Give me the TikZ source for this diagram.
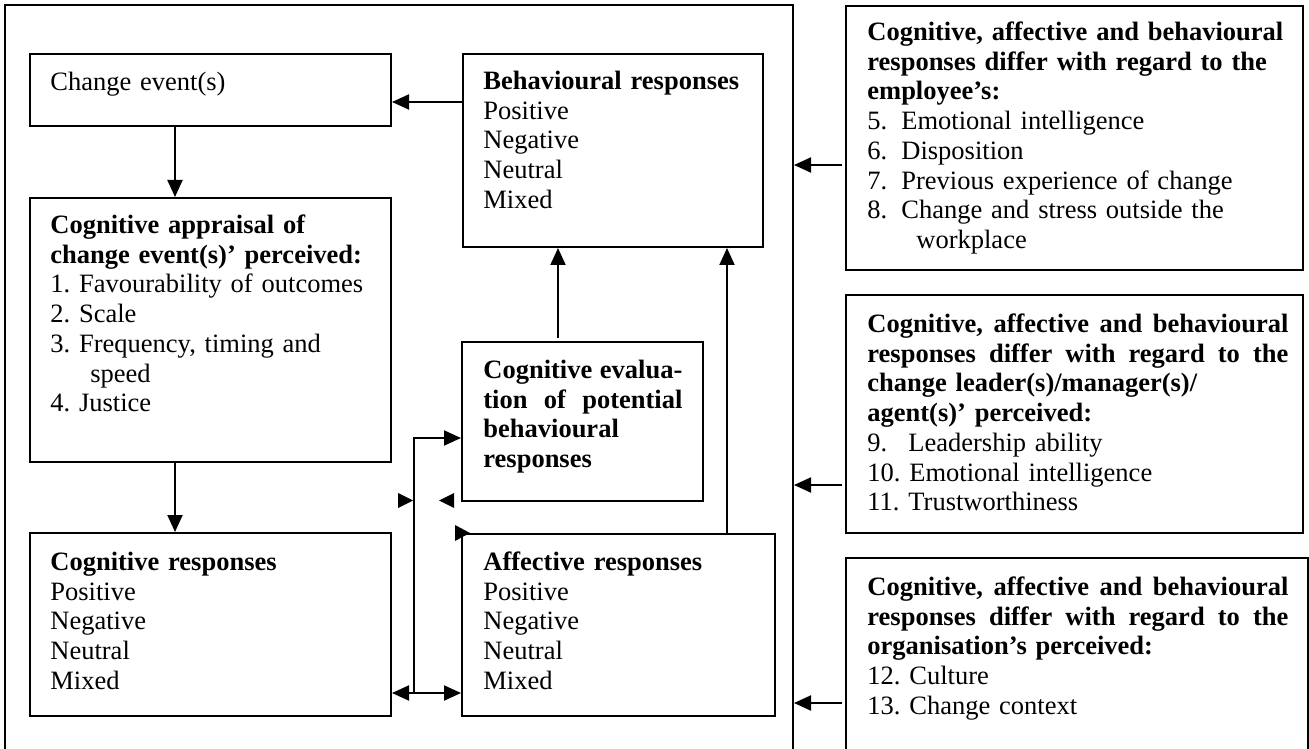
\documentclass[tikz,border=0pt]{standalone}
\usepackage{fontspec}
\setmainfont{Liberation Serif}
\usetikzlibrary{arrows.meta,fit}
\newcommand{\numbox}[2]{\makebox[#1][l]{#2}}
\newcommand{\justline}[2]{\leavevmode\hbox to #1{#2}}
\tikzset{
  box/.style={draw, line width=1pt, inner sep=0pt},
  txt/.style={anchor=north west, inner sep=0pt, align=left, text width=#1,
              font=\fontsize{13.25}{14.875}\selectfont\frenchspacing},
  arr/.style={line width=1pt, -{Triangle[length=8.5pt,width=7.5pt]}},
  darr/.style={line width=1pt, {Triangle[length=8.5pt,width=7.5pt]}-{Triangle[length=8.5pt,width=7.5pt]}},
  ln/.style={line width=1pt},
}
\begin{document}
\begin{tikzpicture}[x=0.5pt,y=-0.5pt]
\clip (0,0) rectangle (1309,748);
\fill[white] (0,0) rectangle (1309,748);

% outer frame
\node[box, fit={(5,5) (793,790)}] (outer) {};

% left column boxes
\node[box, fit={(30,54) (391,126)}] (ce) {};
\node[box, fit={(30,198) (391,462)}] (ca) {};
\node[box, fit={(30,533) (391,716)}] (cr) {};
% middle column boxes
\node[box, fit={(463,54) (763,247)}] (br) {};
\node[box, fit={(462,342) (703,501)}] (ev) {};
\node[box, fit={(462,534) (775,716)}] (ar) {};
% right column boxes
\node[box, fit={(846,6) (1303,270)}] (r1) {};
\node[box, fit={(846,295) (1303,533)}] (r2) {};
\node[box, fit={(846,558) (1308,790)}] (r3) {};

% texts
\node[txt=180pt] (ce-t) at (50,69) {\strut Change event(s)};
\node[txt=150pt] (br-t) at (483,68.2) {\strut\textbf{Behavioural responses}\\Positive\\Negative\\Neutral\\Mixed};
\node[txt=180pt] (ca-t) at (50,212.2) {\strut\textbf{Cognitive appraisal of}\\\textbf{change event(s)’ perceived:}\\1. Favourability of outcomes\\2. Scale\\3. Frequency, timing and\\\hspace*{20pt}speed\\4. Justice};
\node[txt=180pt] (cr-t) at (50,549.2) {\strut\textbf{Cognitive responses}\\Positive\\Negative\\Neutral\\Mixed};
\node[txt=150pt] (ar-t) at (483,549.2) {\strut\textbf{Affective responses}\\Positive\\Negative\\Neutral\\Mixed};
\node[txt=99.5pt] (ev-t) at (483,357.2) {\bfseries\strut\justline{99.5pt}{Cognitive\hfill evalua-}\\\justline{99.5pt}{tion\hfill of\hfill potential}\\behavioural\\responses};

\node[txt=210.5pt] (r1-t) at (867,19.2) {\strut\textbf{Cognitive, affective and behavioural}\\\textbf{responses differ with regard to the}\\\textbf{employee’s:}\\\numbox{17pt}{5.}Emotional intelligence\\\numbox{17pt}{6.}Disposition\\\numbox{17pt}{7.}Previous experience of change\\\numbox{17pt}{8.}Change and stress outside the\\\hspace*{24.5pt}workplace};
\node[txt=210.5pt] (r2-t) at (867,311.2) {\bfseries\strut\justline{210.5pt}{Cognitive,\hfill affective\hfill and\hfill behavioural}\\\justline{210.5pt}{responses\hfill differ\hfill with\hfill regard\hfill to\hfill the}\\change leader(s)/manager(s)/\\agent(s)’ perceived:\\\mdseries\numbox{20.5pt}{9.}Leadership ability\\10. Emotional intelligence\\11. Trustworthiness};
\node[txt=210.5pt] (r3-t) at (867,574.2) {\bfseries\strut\justline{210.5pt}{Cognitive,\hfill affective\hfill and\hfill behavioural}\\\justline{210.5pt}{responses\hfill differ\hfill with\hfill regard\hfill to\hfill the}\\organisation’s perceived:\\\mdseries 12. Culture\\13. Change context};

% helper coordinates
\coordinate (h1) at (0,102);
\coordinate (v1) at (175,0);
\coordinate (e1) at (558,338);
\coordinate (e2) at (727,534);
\coordinate (j1) at (414,438);
\coordinate (j2) at (414,693);
\coordinate (a1) at (842,165);
\coordinate (a2) at (842,485);
\coordinate (a3) at (842,703);

% connectors
\draw[arr] (br.west |- h1) -- (ce.east |- h1);
\draw[arr] (ce.south -| v1) -- (ca.north -| v1);
\draw[arr] (ca.south -| v1) -- (cr.north -| v1);
\draw[arr] (e1) -- (br.south -| e1);
\draw[arr] (e2) -- (br.south -| e2);
\draw[arr] (j2) -- (j1) -- (ev.west |- j1);
\draw[darr] (cr.east |- j2) -- (ar.west |- j2);
\draw[arr] (a1) -- (outer.east |- a1);
\draw[arr] (a2) -- (outer.east |- a2);
\draw[arr] (a3) -- (outer.east |- a3);

% stray arrowheads
\fill (398,493) -- (413,500.5) -- (398,508) -- cycle;
\fill (454,493) -- (439,500.5) -- (454,508) -- cycle;
\fill (455,525) -- (470,533) -- (455,541) -- cycle;
\end{tikzpicture}
\end{document}
